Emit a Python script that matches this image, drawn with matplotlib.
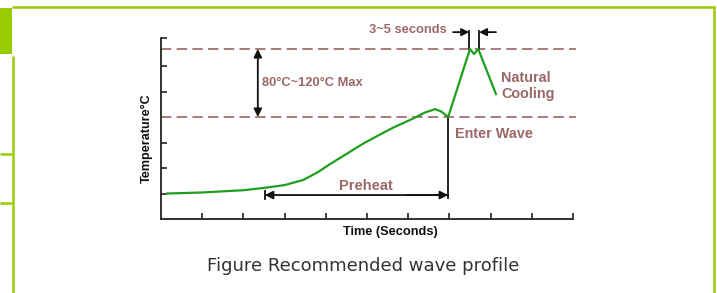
import numpy as np
import matplotlib.pyplot as plt
from matplotlib.patches import Rectangle

plt.rcParams['lines.scale_dashes'] = False

# profile data (x in tick units of time, y in tick units of temperature)
profile_x = [0.15, 1.0, 2.0, 2.5, 3.0, 3.45, 3.8, 4.1, 4.5, 4.9, 5.3, 5.63, 6.09,
             6.4, 6.65, 6.8, 6.97, 7.5, 7.6, 7.7, 8.13]
profile_y = [1.0, 1.04, 1.13, 1.22, 1.33, 1.53, 1.83, 2.15, 2.55, 2.95, 3.3, 3.58, 3.92,
             4.17, 4.31, 4.22, 4.0, 6.67, 6.47, 6.67, 4.9]

wave_level = 4.0
peak_level = 6.67
enter_wave_x = 6.97
preheat_start = 2.52
dwell_start, dwell_end = 7.48, 7.72
x_ticks = list(range(1, 11))
y_ticks = [1, 2, 3, 4, 5, 6, 7.1]

BROWN_TXT = '#9b6868'
BROWN_DASH = '#a67c7c'
GREEN_CURVE = '#1f9e1f'
FRAME = '#99cc00'
FONT = 'Liberation Sans'

W, H = 717, 293
fig = plt.figure(figsize=(W / 100, H / 100), dpi=100)

# page frame (overlay axes in pixel coordinates)
frame = fig.add_axes([0, 0, 1, 1])
frame.set_xlim(0, W)
frame.set_ylim(H, 0)
frame.axis('off')
frame.plot([12, 715], [7, 7], color=FRAME, lw=1.8, solid_capstyle='butt')
frame.plot([714, 714], [6, H], color=FRAME, lw=1.8, solid_capstyle='butt')
frame.plot([13, 13], [56, H], color=FRAME, lw=1.8, solid_capstyle='butt')
frame.plot([0, 13], [154, 154], color=FRAME, lw=1.8, solid_capstyle='butt')
frame.plot([0, 13], [203, 203], color=FRAME, lw=1.8, solid_capstyle='butt')
frame.add_patch(Rectangle((0, 8), 12, 46, color=FRAME, lw=0))

ax = fig.add_axes([161 / W, (H - 219) / H, (573 - 161) / W, (219 - 38) / H])
ax.set_xlim(0, 10)
ax.set_ylim(0, 7.1)
for s in ['top', 'right']:
    ax.spines[s].set_visible(False)
for s in ['left', 'bottom']:
    ax.spines[s].set_linewidth(1.3)
    ax.spines[s].set_color('#222222')
ax.set_xticks(x_ticks)
ax.set_yticks(y_ticks)
ax.set_xticklabels([])
ax.set_yticklabels([])
ax.tick_params(direction='in', length=4.5, width=1.2, color='#222222')

# reference levels
for lvl in [wave_level, peak_level]:
    ax.plot([0, 10.07], [lvl, lvl], color=BROWN_DASH, lw=1.4,
            dashes=(7.5, 3.8), clip_on=False)

ax.plot(profile_x, profile_y, color=GREEN_CURVE, lw=1.6, clip_on=False, zorder=3)

# 80~120 arrow
ax.annotate('', xy=(2.35, peak_level), xytext=(2.35, wave_level),
            arrowprops=dict(arrowstyle='<|-|>', color='#111111', lw=1.3,
                            mutation_scale=12, shrinkA=0, shrinkB=0))
ax.text(2.45, 5.33, '80°C~120°C Max', color=BROWN_TXT, fontsize=9.3,
        fontweight='bold', family=FONT, va='center', ha='left')

# preheat
ax.plot([enter_wave_x, enter_wave_x], [wave_level, 0.82], color='#111111', lw=1.3)
ax.plot([preheat_start, preheat_start], [0.78, 1.08], color='#111111', lw=1.3)
ax.annotate('', xy=(preheat_start, 0.94), xytext=(enter_wave_x, 0.94),
            arrowprops=dict(arrowstyle='-|>', color='#111111', lw=1.3,
                            mutation_scale=12, shrinkA=0, shrinkB=0))
ax.annotate('', xy=(enter_wave_x, 0.94), xytext=(enter_wave_x - 1.0, 0.94),
            arrowprops=dict(arrowstyle='-|>', color='#111111', lw=1.3,
                            mutation_scale=12, shrinkA=0, shrinkB=0))
ax.text(4.98, 1.29, 'Preheat', color=BROWN_TXT, fontsize=10.5, fontweight='bold',
        family=FONT, ha='center', va='center')

# dwell time marker
for xv in [dwell_start, dwell_end]:
    ax.plot([xv, xv], [peak_level, 7.36], color='#111111', lw=1.3, clip_on=False)
ax.annotate('', xy=(dwell_start, 7.33), xytext=(7.09, 7.33), annotation_clip=False,
            arrowprops=dict(arrowstyle='-|>', color='#111111', lw=1.3,
                            mutation_scale=11, shrinkA=0, shrinkB=0))
ax.annotate('', xy=(dwell_end, 7.33), xytext=(8.13, 7.33), annotation_clip=False,
            arrowprops=dict(arrowstyle='-|>', color='#111111', lw=1.3,
                            mutation_scale=11, shrinkA=0, shrinkB=0))
ax.text(6.94, 7.41, '3~5 seconds', color=BROWN_TXT, fontsize=9.3, fontweight='bold',
        family=FONT, ha='right', va='center')

ax.text(7.14, 3.33, 'Enter Wave', color=BROWN_TXT, fontsize=10.4, fontweight='bold',
        family=FONT, ha='left', va='center')
ax.text(8.25, 5.22, 'Natural\nCooling', color=BROWN_TXT, fontsize=10.4, fontweight='bold',
        family=FONT, ha='left', va='center', linespacing=1.2)

fig.text(147 / W, 1 - 138 / H, 'Temperature°C', rotation=90, fontsize=9.1,
         fontweight='bold', family=FONT, ha='center', va='center', color='#111111')
fig.text(390 / W, 1 - 232 / H, 'Time (Seconds)', fontsize=9.2, fontweight='bold',
         family=FONT, ha='center', va='center', color='#111111')
fig.text(363 / W, 1 - 266 / H, 'Figure Recommended wave profile', fontsize=13,
         family='DejaVu Sans', ha='center', va='center', color='#333333')

fig.savefig('out.png', dpi=100)
